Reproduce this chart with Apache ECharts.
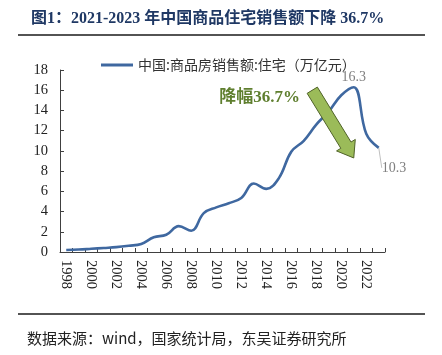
<!DOCTYPE html>
<html><head><meta charset="utf-8">
<script src="https://cdn.jsdelivr.net/npm/echarts@6/dist/echarts.min.js"></script>
<style>html,body{margin:0;padding:0;background:#fff}#c{width:442px;height:355px}</style>
</head><body><div id="c"></div>
<script>
const years = ['1998','1999','2000','2001','2002','2003','2004','2005','2006','2007','2008','2009','2010','2011','2012','2013','2014','2015','2016','2017','2018','2019','2020','2021','2022','2023'];
const sales = [0.20,0.24,0.32,0.40,0.48,0.62,0.80,1.46,1.70,2.56,2.10,3.84,4.41,4.82,5.35,6.77,6.24,7.28,9.91,11.0,12.6,13.9,15.5,16.3,11.7,10.3];
const yTicks = {min:0, max:18, interval:2};
const seriesName = '中国:商品房销售额:住宅（万亿元）';
const titleText = '图1：2021-2023 年中国商品住宅销售额下降 36.7%';
const sourceText = '数据来源：wind，国家统计局，东吴证券研究所';
const noteText = '降幅36.7%';

const chart = echarts.init(document.getElementById('c'));
const serif = '"Liberation Serif","Noto Sans CJK SC",serif';
const lastIdx = sales.length-1;
const data = sales.map((v,i)=>{
  if (i === 23) return {value:v, label:{show:true, position:'top', distance:3, color:'#7f7f7f', fontSize:14, fontFamily:serif, formatter:'{c}'}};
  if (i === lastIdx) return {value:v, label:{show:true, position:'right', color:'#7f7f7f', fontSize:14, fontFamily:serif, formatter:'{c}'}, labelLine:{show:true, lineStyle:{color:'#bfbfbf', width:1}}};
  return v;
});
const staticGraphics = [
  {type:'line', shape:{x1:18,y1:35,x2:425,y2:35}, style:{stroke:'#1a1a1a', lineWidth:1.5}},
  {type:'line', shape:{x1:18,y1:314,x2:425,y2:314}, style:{stroke:'#1a1a1a', lineWidth:1.5}},
  {type:'text', left:27, top:331, style:{text:sourceText, fontSize:15, fill:'#222', fontFamily:'"Noto Sans CJK SC"'}}
];
chart.setOption({
  animation:false,
  title:{text:titleText, left:26, top:6, textStyle:{color:'#1f3864', fontSize:16, fontWeight:'bold', fontFamily:serif}},
  legend:{top:53, left:96, itemWidth:32, itemHeight:3, itemGap:5, icon:'rect',
    textStyle:{fontSize:14, color:'#333', fontFamily:'"Noto Sans CJK SC"'}, data:[seriesName]},
  grid:{left:60, right:57, top:70, bottom:103},
  xAxis:{type:'category', data:years, boundaryGap:true,
    axisLine:{lineStyle:{color:'#404040', width:1}},
    axisTick:{show:true, inside:true, length:4, lineStyle:{color:'#404040'}, interval:0},
    axisLabel:{rotate:-90, interval:1, color:'#222', fontSize:14.5, fontFamily:serif, margin:8}},
  yAxis:{type:'value', min:yTicks.min, max:yTicks.max, interval:yTicks.interval,
    splitLine:{show:false},
    axisLine:{show:true, lineStyle:{color:'#404040', width:1}},
    axisTick:{show:true, inside:true, length:4, lineStyle:{color:'#404040'}},
    axisLabel:{color:'#222', fontSize:14.5, fontFamily:serif, margin:12}},
  series:[{name:seriesName, type:'line', data:data, smooth:0.4, symbol:'circle', symbolSize:0, showSymbol:true,
    lineStyle:{color:'#3f68a0', width:2.6}, itemStyle:{color:'#3f68a0'},
    labelLayout:function(p){ return p.dataIndex === lastIdx ? {dx:-2, dy:20} : {}; }}],
  graphic:staticGraphics
});
// arrow + note anchored via data coordinates
const p1 = chart.convertToPixel({gridIndex:0}, ['2018', 16.0]);
const p2 = chart.convertToPixel({gridIndex:0}, ['2021', 9.3]);
p1[0] -= 4;
const dx = p2[0]-p1[0], dy = p2[1]-p1[1];
const L = Math.hypot(dx,dy), ux = dx/L, uy = dy/L, nx = -uy, ny = ux;
const sw = 6, hw = 11, hl = 15;
const bx = p2[0]-ux*hl, by = p2[1]-uy*hl;
const pts = [
  [p1[0]+nx*sw, p1[1]+ny*sw],
  [bx+nx*sw, by+ny*sw],
  [bx+nx*hw, by+ny*hw],
  [p2[0], p2[1]],
  [bx-nx*hw, by-ny*hw],
  [bx-nx*sw, by-ny*sw],
  [p1[0]-nx*sw, p1[1]-ny*sw]
];
const np = chart.convertToPixel({gridIndex:0}, ['2010', 16.1]);
chart.setOption({graphic: staticGraphics.concat([
  {type:'polygon', shape:{points:pts}, style:{fill:'#9bbb59', stroke:'#4f6228', lineWidth:1}, z:10},
  {type:'text', x:np[0]+3, y:np[1], style:{text:noteText, fontSize:17, fontWeight:'bold', fill:'#5f7f2f', fontFamily:serif}, z:10}
])});
</script></body></html>
